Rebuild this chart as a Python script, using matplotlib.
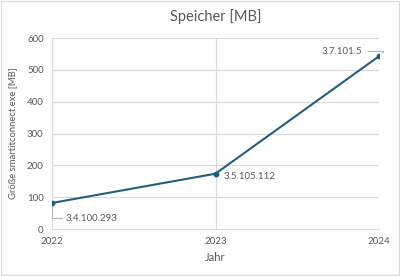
import matplotlib
matplotlib.use("Agg")
import matplotlib.pyplot as plt

plt.rcParams['font.family'] = ['Lato', 'DejaVu Sans']

years = [2022, 2023, 2024]
size_mb = [82, 174, 543]
versions = ["3.4.100.293", "3.5.105.112", "3.7.101.5"]

line_color = "#215f80"
text_color = "#595959"
grid_color = "#d9d9d9"

fig = plt.figure(figsize=(4, 2.76), dpi=100)
ax = fig.add_axes([0.13, 0.17, 0.8175, 0.692])

ax.plot(years, size_mb, color=line_color, lw=1.5, marker="o", ms=3.2, zorder=3)

ax.set_xlim(2022, 2024)
ax.set_ylim(0, 600)
ax.set_xticks(years)
ax.set_yticks(range(0, 601, 100))
ax.grid(True, color=grid_color, lw=0.8)
ax.set_axisbelow(True)
for s in ax.spines.values():
    s.set_visible(False)
ax.spines['bottom'].set_visible(True)
ax.spines['bottom'].set_color(grid_color)
ax.tick_params(length=0, labelsize=7, colors=text_color, pad=6)

ax.set_title("Speicher [MB]", fontsize=10.5, color=text_color, pad=12)
ax.set_xlabel("Jahr", fontsize=8, color=text_color, labelpad=4)
ax.set_ylabel("Größe smartitconnect.exe [MB]", fontsize=6.8, color=text_color, labelpad=7)

ax.annotate(versions[0], (years[0], size_mb[0]), xytext=(10, -11), textcoords="offset points",
            fontsize=7, color=text_color, va="center", ha="left",
            arrowprops=dict(arrowstyle="-", color="#a6a6a6", lw=0.6,
                            connectionstyle="angle,angleA=0,angleB=90,rad=0", shrinkA=1, shrinkB=3))
ax.annotate(versions[1], (years[1], size_mb[1]), xytext=(6, -2), textcoords="offset points",
            fontsize=7, color=text_color, va="center", ha="left")
ax.annotate(versions[2], (years[2], size_mb[2]), xytext=(-12, 3.5), textcoords="offset points",
            fontsize=7, color=text_color, va="center", ha="right",
            arrowprops=dict(arrowstyle="-", color="#a6a6a6", lw=0.6,
                            connectionstyle="angle,angleA=0,angleB=45,rad=0", shrinkA=2, shrinkB=3))

fig.patches.append(plt.Rectangle((0.002, 0.003), 0.996, 0.994, transform=fig.transFigure,
                                 fill=False, edgecolor="#d9d9d9", lw=0.8))

fig.savefig("out.png", dpi=100)
